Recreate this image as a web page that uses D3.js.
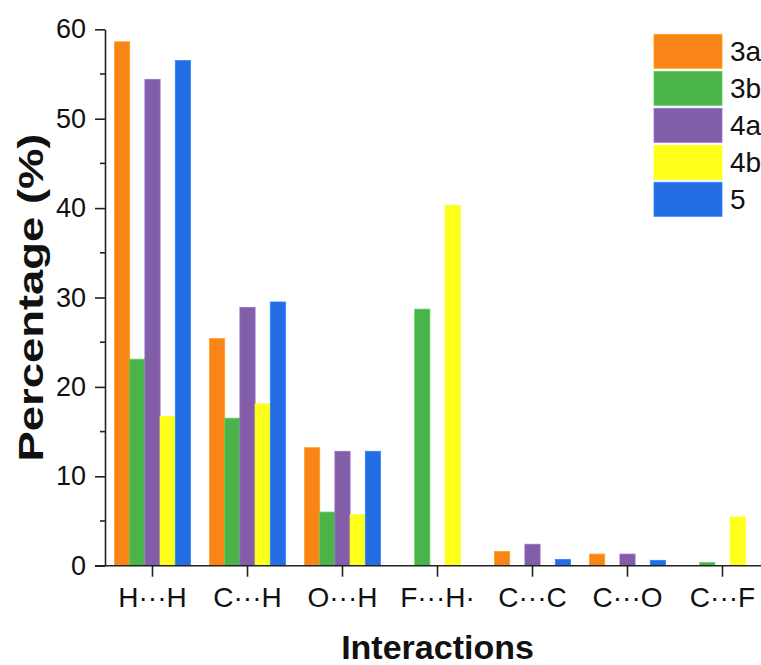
<!DOCTYPE html>
<html>
<head>
<meta charset="utf-8">
<script src="https://cdn.jsdelivr.net/npm/d3@7"></script>
<style>
  body { margin: 0; background: #fff; overflow: hidden; }
  svg { display: block; font-family: "Liberation Sans", Arial, sans-serif; }
</style>
</head>
<body>
<script>
// interaction categories (x axis)
var categories = ["H\u00b7\u00b7\u00b7H", "C\u00b7\u00b7\u00b7H", "O\u00b7\u00b7\u00b7H", "F\u00b7\u00b7\u00b7H\u00b7", "C\u00b7\u00b7\u00b7C", "C\u00b7\u00b7\u00b7O", "C\u00b7\u00b7\u00b7F"]
var seriesNames = ["3a", "3b", "4a", "4b", "5"]
var seriesColors = ["#f98517", "#4ab34a", "#825ea8", "#ffff1c", "#246ee4"]

// percentages
var values3a = [58.6, 25.4, 13.2, 0, 1.6, 1.3, 0]
var values3b = [23.1, 16.5, 6.0, 28.7, 0, 0, 0.35]
var values4a = [54.4, 28.9, 12.8, 0, 2.4, 1.3, 0]
var values4b = [16.7, 18.1, 5.7, 40.3, 0, 0, 5.45]
var values5  = [56.5, 29.5, 12.8, 0, 0.7, 0.6, 0]
var seriesValues = [values3a, values3b, values4a, values4b, values5]

var yTicks = [0, 10, 20, 30, 40, 50, 60]
var yMinorTicks = [5, 15, 25, 35, 45, 55]

var width = 761, height = 665
var plotLeft = 105, plotRight = 770, plotTop = 29.3, plotBottom = 565.7

var svg = d3.select('body').append('svg')
    .attr('width', width)
    .attr('height', height)

var x0 = d3.scaleBand()
    .domain(categories)
    .range([plotLeft, plotRight])
    .paddingInner(0.2)
    .paddingOuter(0.1)

var x1 = d3.scaleBand()
    .domain(seriesNames)
    .range([0, x0.bandwidth()])

var y = d3.scaleLinear()
    .domain([0, 60])
    .range([plotBottom, plotTop])

var color = d3.scaleOrdinal().domain(seriesNames).range(seriesColors)

// table built from the arrays
var rows = []
categories.forEach(function(c, i) {
  seriesNames.forEach(function(s, j) {
    rows.push({cat: c, series: s, value: seriesValues[j][i]})
  })
})

// bars
svg.append('g').selectAll('rect')
    .data(rows.filter(function(d) { return d.value > 0 }))
    .enter().append('rect')
    .attr('x', function(d) { return x0(d.cat) + x1(d.series) })
    .attr('y', function(d) { return y(d.value) })
    .attr('width', x1.bandwidth())
    .attr('height', function(d) { return y(0) - y(d.value) })
    .attr('fill', function(d) { return color(d.series) })
    .attr('stroke', function(d) { return d3.color(color(d.series)).brighter(0.5) })
    .attr('stroke-width', 0.8)

// y axis
var yAxis = svg.append('g')
    .attr('transform', 'translate(' + plotLeft + ',0)')
    .call(d3.axisLeft(y).tickValues(yTicks).tickSize(10).tickPadding(9).tickSizeOuter(0))
yAxis.select('.domain').attr('stroke', '#222').attr('stroke-width', 1.6)
yAxis.selectAll('.tick line').attr('stroke', '#222').attr('stroke-width', 1.6)
yAxis.selectAll('.tick text').attr('font-size', 27).attr('fill', '#111')
    .attr('font-family', '"Liberation Sans", Arial, sans-serif')

svg.append('g').selectAll('line')
    .data(yMinorTicks)
    .enter().append('line')
    .attr('x1', plotLeft - 5).attr('x2', plotLeft)
    .attr('y1', function(d) { return y(d) }).attr('y2', function(d) { return y(d) })
    .attr('stroke', '#222').attr('stroke-width', 1.6)

// x axis
var xAxis = svg.append('g')
    .attr('transform', 'translate(0,' + plotBottom + ')')
    .call(d3.axisBottom(x0).tickSize(11).tickPadding(10).tickSizeOuter(0))
xAxis.select('.domain').attr('stroke', '#222').attr('stroke-width', 1.6)
    .attr('d', 'M' + (plotLeft - 10) + ',0H' + plotRight)
xAxis.selectAll('.tick line').attr('stroke', '#222').attr('stroke-width', 1.6)
xAxis.selectAll('.tick text').attr('font-size', 28).attr('fill', '#111')
    .attr('font-family', '"Liberation Sans", Arial, sans-serif')

// axis titles
svg.append('text')
    .attr('x', (plotLeft + plotRight) / 2)
    .attr('y', 659)
    .attr('text-anchor', 'middle')
    .attr('font-size', 34)
    .attr('font-weight', 'bold')
    .attr('fill', '#111')
    .text('Interactions')

svg.append('text')
    .attr('transform', 'translate(43,' + ((plotTop + plotBottom) / 2) + ') rotate(-90)')
    .attr('text-anchor', 'middle')
    .attr('font-size', 35)
    .attr('font-weight', 'bold')
    .attr('fill', '#111')
    .attr('textLength', 328)
    .attr('lengthAdjust', 'spacingAndGlyphs')
    .text('Percentage (%)')

// legend
var legend = svg.append('g')
    .selectAll('g')
    .data(seriesNames)
    .enter().append('g')
    .attr('transform', function(d, i) { return 'translate(654,' + (34.3 + i * 37) + ')' })

legend.append('rect')
    .attr('width', 68)
    .attr('height', 34)
    .attr('fill', function(d) { return color(d) })
    .attr('stroke', function(d) { return d3.color(color(d)).brighter(0.5) })
    .attr('stroke-width', 0.8)

legend.append('text')
    .attr('x', 76)
    .attr('y', 17)
    .attr('dy', '0.35em')
    .attr('font-size', 28)
    .attr('fill', '#111')
    .text(function(d) { return d })
</script>
</body>
</html>
